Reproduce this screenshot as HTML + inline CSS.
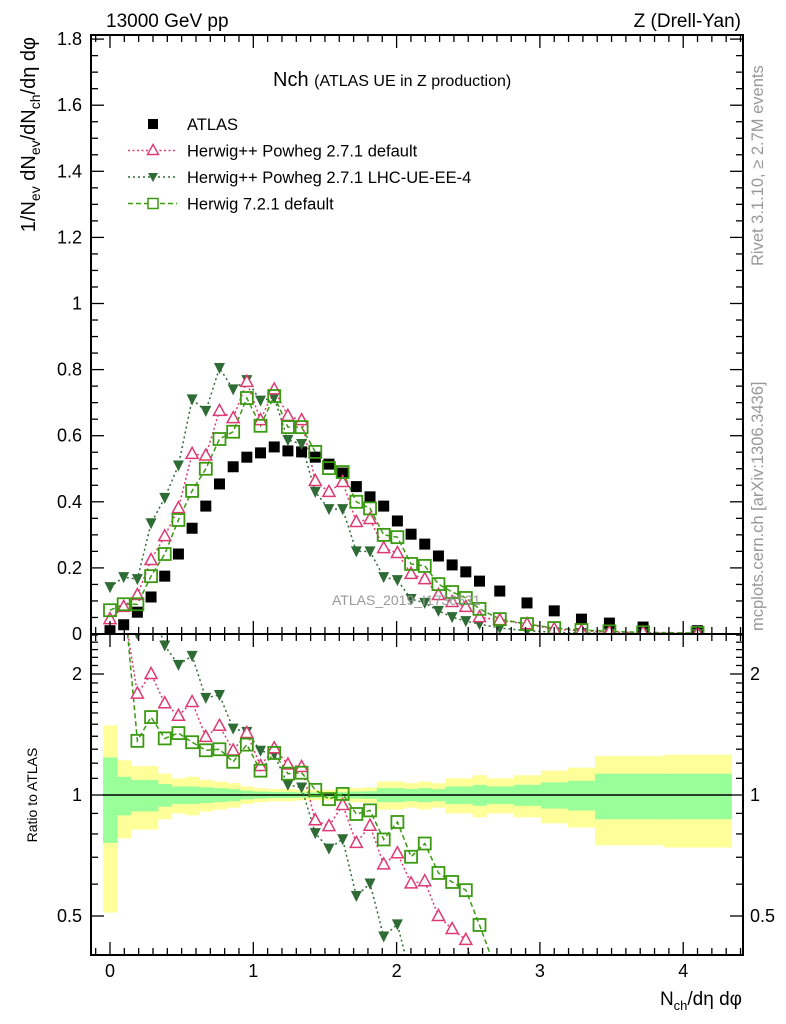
<!DOCTYPE html>
<html><head><meta charset="utf-8"><style>
html,body{margin:0;padding:0;background:#fff;width:786px;height:1024px;overflow:hidden;}
svg{display:block;font-family:"Liberation Sans",sans-serif;}
</style></head><body>
<svg id="chart" width="786" height="1024" viewBox="0 0 786 1024" xmlns="http://www.w3.org/2000/svg">
<defs>
<clipPath id="clipMain"><rect x="91" y="35" width="652" height="599"/></clipPath>
<clipPath id="clipRatio"><rect x="91" y="634" width="652" height="321"/></clipPath>
</defs>
<g id="bands" clip-path="url(#clipRatio)"></g>
<g id="marks"></g>
<g id="axes"></g>
<text x="106" y="27" font-size="19">13000 GeV pp</text>
<text x="741" y="27" font-size="19" text-anchor="end">Z (Drell-Yan)</text>
<text x="273" y="86" font-size="20">Nch <tspan font-size="16">(ATLAS UE in Z production)</tspan></text>
<text transform="translate(763,266) rotate(-90)" font-size="16.5" fill="#999">Rivet 3.1.10, ≥ 2.7M events</text>
<text transform="translate(763,631) rotate(-90)" font-size="16.5" fill="#999">mcplots.cern.ch [arXiv:1306.3436]</text>
<text x="332" y="605" font-size="14" fill="#999">ATLAS_2019_I1736531</text>
<text transform="translate(35,37) rotate(-90)" font-size="20" text-anchor="end">1/N<tspan font-size="14" dy="5">ev</tspan><tspan dy="-5"> dN</tspan><tspan font-size="14" dy="5">ev</tspan><tspan dy="-5">/dN</tspan><tspan font-size="14" dy="5">ch</tspan><tspan dy="-5">/dη dφ</tspan></text>
<text transform="translate(37,795) rotate(-90)" font-size="14" text-anchor="middle">Ratio to ATLAS</text>
<text x="742" y="1005" font-size="19" text-anchor="end">N<tspan font-size="13" dy="5">ch</tspan><tspan dy="-5">/dη dφ</tspan></text>
<g id="legend"></g>
</svg>
<script>
const xPos = [0,0.0955,0.191,0.2865,0.382,0.4775,0.573,0.6685,0.764,0.8595,0.955,1.0505,1.146,1.2415,1.337,1.4325,1.528,1.6235,1.719,1.8145,1.91,2.0055,2.101,2.1965,2.292,2.3875,2.483,2.5785,2.72,2.91,3.10,3.29,3.485,3.72,4.10];
const atlas = [0.01,0.028,0.066,0.112,0.175,0.242,0.32,0.387,0.454,0.506,0.535,0.548,0.566,0.554,0.551,0.535,0.514,0.487,0.446,0.415,0.387,0.342,0.302,0.272,0.236,0.209,0.188,0.16,0.13,0.094,0.07,0.045,0.033,0.021,0.01];
const powhegDefault = [0.045,0.082,0.118,0.224,0.296,0.381,0.545,0.54,0.675,0.653,0.763,0.647,0.74,0.66,0.647,0.463,0.43,0.46,0.339,0.348,0.26,0.245,0.182,0.166,0.118,0.097,0.082,0.051,0.042,0.03,0.015,0.009,0.006,0.004,0.002];
const powhegUE = [0.142,0.172,0.166,0.335,0.412,0.51,0.71,0.675,0.805,0.74,0.768,0.706,0.715,0.587,0.575,0.43,0.378,0.378,0.25,0.25,0.172,0.163,0.106,0.094,0.07,0.051,0.039,0.03,0.018,0.01,0.005,0.003,0.002,0.001,0.0005];
const herwig7 = [0.072,0.09,0.09,0.175,0.242,0.345,0.433,0.5,0.59,0.612,0.714,0.63,0.72,0.626,0.626,0.551,0.502,0.49,0.4,0.38,0.3,0.293,0.212,0.206,0.151,0.127,0.109,0.076,0.045,0.03,0.018,0.012,0.008,0.005,0.003];
const binEdges = [-0.048,0.048,0.143,0.239,0.334,0.430,0.525,0.621,0.716,0.812,0.907,1.003,1.098,1.194,1.289,1.385,1.480,1.576,1.671,1.767,1.862,1.958,2.053,2.149,2.244,2.340,2.435,2.531,2.626,2.818,3.007,3.196,3.385,3.58,3.867,4.336];
const errTotal = [0.49,0.22,0.18,0.18,0.13,0.1,0.11,0.09,0.08,0.07,0.05,0.04,0.035,0.035,0.03,0.03,0.03,0.035,0.04,0.045,0.08,0.08,0.07,0.08,0.07,0.1,0.1,0.12,0.1,0.12,0.15,0.17,0.25,0.25,0.26];
const errStat = [0.24,0.11,0.09,0.09,0.065,0.05,0.05,0.045,0.04,0.035,0.025,0.02,0.018,0.018,0.015,0.015,0.015,0.018,0.02,0.022,0.04,0.04,0.035,0.04,0.035,0.05,0.05,0.06,0.05,0.06,0.075,0.085,0.13,0.13,0.13];
const xTicks = [0,1,2,3,4];
const yTicks = [0,0.2,0.4,0.6,0.8,1,1.2,1.4,1.6,1.8];
const rTicks = [0.5,1,2];

const NS="http://www.w3.org/2000/svg";
const X = u => 110 + u*143.3;
const YM = v => 634 - v*330.5;
const YR = r => 795 - 121*Math.log2(r);
function mk(tag, attrs, parent){const e=document.createElementNS(NS,tag);for(const k in attrs)e.setAttribute(k,attrs[k]);parent.appendChild(e);return e;}
const bands=document.getElementById('bands'), marks=document.getElementById('marks'), axes=document.getElementById('axes'), legend=document.getElementById('legend');

for(let i=0;i<errTotal.length;i++){
  const x0=X(binEdges[i]), x1=X(binEdges[i+1]);
  const y=mk('rect',{x:x0,y:YR(1+errTotal[i]),width:x1-x0+0.5,height:YR(1-errTotal[i])-YR(1+errTotal[i]),fill:'#ffff99'},bands);
  
  
}
for(let i=0;i<errStat.length;i++){
  const x0=X(binEdges[i]), x1=X(binEdges[i+1]);
  const g=mk('rect',{x:x0,y:YR(1+errStat[i]),width:x1-x0+0.5,height:YR(1-errStat[i])-YR(1+errStat[i]),fill:'#99ff99'},bands);
  
  
}
const ref=mk('line',{x1:X(binEdges[0]),x2:X(binEdges[binEdges.length-1]),y1:YR(1),y2:YR(1),stroke:'#000','stroke-width':1.5},bands);



function marker(type,cx,cy,color,parent,name){
  let e;
  if(type==='sq'){e=mk('rect',{x:cx-5.5,y:cy-5.5,width:11,height:11,fill:'#000'},parent);}
  else if(type==='tri'){e=mk('path',{d:`M${cx},${cy-6.5} L${cx+6},${cy+4.5} L${cx-6},${cy+4.5} Z`,fill:'#fff',stroke:color,'stroke-width':1.5},parent);}
  else if(type==='dtri'){e=mk('path',{d:`M${cx-5.5},${cy-5} L${cx+5.5},${cy-5} L${cx},${cy+6} Z`,fill:color},parent);}
  else {e=mk('rect',{x:cx-6,y:cy-6,width:12,height:12,fill:'none',stroke:color,'stroke-width':1.8},parent);}
  
  
  return e;
}
const series=[
 {vals:powhegUE,type:'dtri',color:'#2e6b35',dash:'2,3',name:'powheg-lhc-ue'},
 {vals:powhegDefault,type:'tri',color:'#dd3a72',dash:'2,2.5',name:'powheg-default'},
 {vals:herwig7,type:'osq',color:'#3c9a12',dash:'5,3',name:'herwig7-default'}
];
const gMain=mk('g',{'clip-path':'url(#clipMain)'},marks);
const gRatio=mk('g',{'clip-path':'url(#clipRatio)'},marks);
series.forEach(s=>{
  const pm=s.vals.map((v,i)=>`${X(xPos[i])},${YM(v)}`).join(' ');
  const l=mk('polyline',{points:pm,fill:'none',stroke:s.color,'stroke-width':1.5,'stroke-dasharray':s.dash},gMain);
  
  
  const pr=s.vals.map((v,i)=>`${X(xPos[i])},${YR(v/atlas[i])}`).join(' ');
  const lr=mk('polyline',{points:pr,fill:'none',stroke:s.color,'stroke-width':1.5,'stroke-dasharray':s.dash},gRatio);
  
  
});
atlas.forEach((v,i)=>marker('sq',X(xPos[i]),YM(v),'#000',gMain,'atlas-point'));
series.forEach(s=>{
  s.vals.forEach((v,i)=>{
    marker(s.type,X(xPos[i]),YM(v),s.color,gMain,s.name+'-point');
    const ry=YR(v/atlas[i]);
    if(ry>620 && ry<970) marker(s.type,X(xPos[i]),ry,s.color,gRatio,s.name+'-ratio-point');
  });
});

[[35,634],[634,955]].forEach(([t,b],pi)=>{
  const f=mk('rect',{x:91,y:t,width:652,height:b-t,fill:'none',stroke:'#000','stroke-width':2},axes);
  
  
  for(let k=-1;k<=44;k++){
    const u=k/10, x=X(u); if(x<92||x>742) continue;
    const L = (k%10===0)?13:7;
    mk('line',{x1:x,x2:x,y1:b,y2:b-L,stroke:'#000','stroke-width':1.3},axes);
    mk('line',{x1:x,x2:x,y1:t,y2:t+L,stroke:'#000','stroke-width':1.3},axes);
  }
});
for(let k=0;k<=36;k++){
  const y=YM(k*0.05); if(y<36) continue;
  const L=(k%4===0)?13:7;
  mk('line',{x1:91,x2:91+L,y1:y,y2:y,stroke:'#000','stroke-width':1.3},axes);
  mk('line',{x1:743,x2:743-L,y1:y,y2:y,stroke:'#000','stroke-width':1.3},axes);
}
for(let k=4;k<=25;k++){
  const r=k/10, y=YR(r); if(y<635||y>954) continue;
  const L=(k===5||k===10||k===20)?13:7;
  mk('line',{x1:91,x2:91+L,y1:y,y2:y,stroke:'#000','stroke-width':1.3},axes);
  mk('line',{x1:743,x2:743-L,y1:y,y2:y,stroke:'#000','stroke-width':1.3},axes);
}
yTicks.forEach(v=>{
  const t=mk('text',{x:82,y:YM(v)+6,'font-size':18,'text-anchor':'end'},axes);
  t.textContent=String(v);
  
  
});
rTicks.forEach(r=>{
  const t=mk('text',{x:82,y:YR(r)+6,'font-size':18,'text-anchor':'end'},axes);
  t.textContent=String(r);
  
  
  const t2=mk('text',{x:750,y:YR(r)+6,'font-size':18},axes);
  t2.textContent=String(r);
  
  
});
xTicks.forEach(u=>{
  const t=mk('text',{x:X(u),y:977,'font-size':18,'text-anchor':'middle'},axes);
  t.textContent=String(u);
  
  
});

const leg=[
 {label:'ATLAS',type:'sq',color:'#000',dash:null},
 {label:'Herwig++ Powheg 2.7.1 default',type:'tri',color:'#dd3a72',dash:'2,2.5'},
 {label:'Herwig++ Powheg 2.7.1 LHC-UE-EE-4',type:'dtri',color:'#2e6b35',dash:'2,3'},
 {label:'Herwig 7.2.1 default',type:'osq',color:'#3c9a12',dash:'5,3'}
];
leg.forEach((e,i)=>{
  const y=124+i*26.5;
  const g=mk('g',{},legend);
  
  
  if(e.dash) mk('line',{x1:128,x2:177,y1:y,y2:y,stroke:e.color,'stroke-width':1.5,'stroke-dasharray':e.dash},g);
  if(e.type==='sq') mk('rect',{x:148,y:y-5,width:10,height:10,fill:'#000'},g);
  else if(e.type==='tri') mk('path',{d:`M153,${y-6} L158.5,${y+4} L147.5,${y+4} Z`,fill:'#fff',stroke:e.color,'stroke-width':1.4},g);
  else if(e.type==='dtri') mk('path',{d:`M148,${y-4} L158,${y-4} L153,${y+5} Z`,fill:e.color},g);
  else mk('rect',{x:148,y:y-5,width:10,height:10,fill:'#fff',stroke:e.color,'stroke-width':1.5},g);
  const t=mk('text',{x:187,y:y+6,'font-size':16.5},g);
  t.textContent=e.label;
});
</script>
</body></html>
